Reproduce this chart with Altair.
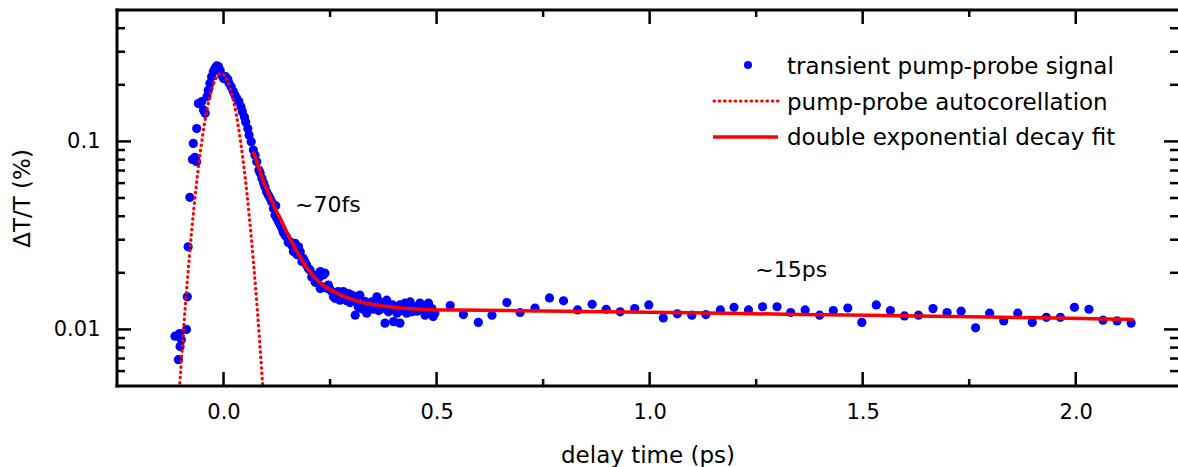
import altair as alt
import pandas as pd

FONT = "DejaVu Sans"
W, H = 1061, 376

# transient pump-probe signal (delay in ps, dT/T in %)
sig_t = [-0.114, -0.103, -0.087, -0.099, -0.102, -0.106,
         -0.085, -0.083, -0.079, -0.073, -0.067, -0.063, -0.071, -0.063, -0.059, -0.051, -0.047, -0.043,
         -0.039, -0.036, -0.032, -0.028, -0.024, -0.020, -0.016, -0.012, -0.008, -0.004, 0.000, 0.005,
         0.010, 0.013, 0.018, 0.023, 0.027, 0.031, 0.036, 0.041, 0.044, 0.049, 0.052, 0.057, 0.060,
         0.065, 0.070, 0.074, 0.078, 0.083,
         0.090, 0.097, 0.105, 0.113, 0.1225, 0.121, 0.129, 0.137, 0.144, 0.156, 0.168, 0.176, 0.180,
         0.187, 0.195, 0.203, 0.211, 0.223, 0.234, 0.231, 0.246, 0.254, 0.262, 0.273,
         0.191, 0.199, 0.227, 0.238, 0.227, 0.258, 0.269, 0.281, 0.293, 0.301, 0.309, 0.309, 0.320,
         0.316, 0.324, 0.336, 0.336, 0.348, 0.360, 0.367, 0.371, 0.379, 0.383, 0.387, 0.399, 0.397,
         0.407, 0.414, 0.414, 0.426, 0.430, 0.438, 0.442, 0.450, 0.461, 0.465, 0.473, 0.481, 0.489,
         0.492, 0.496,
         0.086, 0.094, 0.101, 0.109, 0.117, 0.125, 0.133, 0.140, 0.148, 0.152, 0.160, 0.164, 0.172,
         0.184, 0.207, 0.215, 0.219, 0.242, 0.250, 0.265, 0.277, 0.285, 0.289, 0.297, 0.305, 0.313,
         0.328, 0.332, 0.344, 0.352, 0.356, 0.364, 0.375, 0.391, 0.403, 0.418, 0.422, 0.434, 0.446,
         0.454, 0.469, 0.477, 0.485,
         0.532, 0.563, 0.598, 0.630, 0.665, 0.696, 0.731, 0.765, 0.798, 0.831, 0.865, 0.898, 0.931,
         0.965, 0.998, 1.032, 1.065, 1.099, 1.132, 1.166, 1.198, 1.232, 1.265, 1.299, 1.331, 1.365,
         1.399, 1.431, 1.465, 1.498, 1.532, 1.565, 1.598, 1.631, 1.665, 1.698, 1.731, 1.765, 1.798,
         1.831, 1.864, 1.898, 1.931, 1.964, 1.997, 2.031, 2.064, 2.097, 2.130]
sig_v = [0.0092, 0.0095, 0.0100, 0.0088, 0.0081, 0.0069,
         0.0149, 0.0275, 0.0504, 0.0802, 0.0822, 0.0780, 0.0976, 0.117, 0.159, 0.163, 0.147, 0.141,
         0.173, 0.187, 0.204, 0.221, 0.235, 0.245, 0.252, 0.250, 0.239, 0.225, 0.216, 0.221,
         0.214, 0.204, 0.195, 0.184, 0.176, 0.169, 0.163, 0.153, 0.144, 0.135, 0.127, 0.117, 0.108,
         0.0996, 0.090, 0.0845, 0.078, 0.0704,
         0.0636, 0.0574, 0.0518, 0.0478, 0.0455, 0.0405, 0.0374, 0.0345, 0.0318, 0.0293, 0.0287, 0.0275, 0.0259,
         0.0239, 0.0220, 0.0207, 0.0195, 0.0187, 0.0195, 0.0169, 0.0172, 0.0159, 0.0146, 0.0143,
         0.0229, 0.0211, 0.0203, 0.0199, 0.0165, 0.0149, 0.0159, 0.0159, 0.0155, 0.0152, 0.0143, 0.0119, 0.0152,
         0.0132, 0.0129, 0.0122, 0.0138, 0.0140, 0.0149, 0.0140, 0.0129, 0.0108, 0.0143, 0.0124, 0.0110, 0.0135,
         0.0122, 0.0108, 0.0135, 0.0138, 0.0122, 0.0140, 0.0124, 0.0132, 0.0138, 0.0127, 0.0119, 0.0138, 0.0129,
         0.0117, 0.0122,
         0.068, 0.060, 0.054, 0.050, 0.044, 0.039, 0.036, 0.033, 0.031, 0.029, 0.028, 0.026, 0.025,
         0.023, 0.019, 0.0178, 0.0183, 0.0166, 0.0163, 0.0152, 0.0148, 0.0146, 0.0142, 0.0139, 0.0146, 0.0150,
         0.0131, 0.0141, 0.0131, 0.0128, 0.0134, 0.0126, 0.0131, 0.0131, 0.0128, 0.0126, 0.0130, 0.0127, 0.0129,
         0.0125, 0.0131, 0.0127, 0.0124,
         0.0134, 0.0120, 0.0109, 0.0119, 0.0139, 0.0123, 0.0130, 0.0147, 0.0142, 0.0127, 0.0136, 0.0128, 0.0124,
         0.0129, 0.0135, 0.0115, 0.0121, 0.0119, 0.0120, 0.0127, 0.0131, 0.0127, 0.0132, 0.0132, 0.0123, 0.0127,
         0.0119, 0.0126, 0.0130, 0.0109, 0.0135, 0.0126, 0.0118, 0.0119, 0.0129, 0.0123, 0.0125, 0.0102, 0.0122,
         0.0111, 0.0122, 0.0109, 0.0116, 0.0116, 0.0131, 0.0128, 0.0112, 0.0111, 0.0108]

# pump-probe autocorrelation (dotted)
auto_t = [-0.105, -0.10, -0.09, -0.08, -0.07, -0.06, -0.05, -0.04, -0.03, -0.02, -0.01,
          0.00, 0.01, 0.02, 0.03, 0.04, 0.05, 0.06, 0.07, 0.08, 0.09, 0.10]
auto_v = [0.00426, 0.0063, 0.01295, 0.0246, 0.0430, 0.0695, 0.1036, 0.1424, 0.1806, 0.2113, 0.2281,
          0.2272, 0.2088, 0.1770, 0.1384, 0.0999, 0.0665, 0.0408, 0.0231, 0.0121, 0.00583, 0.0026]

# double exponential decay fit (solid)
fit_t = [0.070, 0.083, 0.097, 0.109, 0.121, 0.133, 0.144, 0.156, 0.168, 0.180, 0.191, 0.203, 0.215,
         0.227, 0.238, 0.250, 0.262, 0.273, 0.285, 0.300, 0.320, 0.340, 0.367, 0.390, 0.414, 0.440,
         0.461, 0.508, 0.555, 0.700, 0.900, 1.100, 1.354, 1.550, 1.750, 1.950, 2.136]
fit_v = [0.0882, 0.0724, 0.0586, 0.0508, 0.0440, 0.0390, 0.0345, 0.0305, 0.0270, 0.0243, 0.0220, 0.0202, 0.0187,
         0.0177, 0.0169, 0.0163, 0.0158, 0.0153, 0.0149, 0.0145, 0.0140, 0.0137, 0.0134, 0.0132, 0.0130, 0.01288,
         0.0128, 0.0127, 0.01268, 0.01258, 0.01243, 0.01227, 0.0120, 0.01185, 0.01168, 0.01150, 0.0113]

x_major = [0.0, 0.5, 1.0, 1.5, 2.0]
x_minor = [0.25, 0.75, 1.25, 1.75]
y_major = [0.01, 0.1]
y_minor = [0.006, 0.007, 0.008, 0.009, 0.02, 0.03, 0.04, 0.05, 0.06, 0.07, 0.08, 0.09, 0.2, 0.3, 0.4]

legend_labels = ["transient pump-probe signal", "pump-probe autocorellation", "double exponential decay fit"]
ann_text = ["~70fs", "~15ps"]
ann_t = [0.168, 1.248]
ann_v = [0.0457, 0.0206]

BLUE = "#0000ff"
RED = "#ff0000"

xs = alt.Scale(domain=[-0.25, 2.24], nice=False, zero=False)
ys = alt.Scale(type="log", domain=[0.005, 0.5], nice=False)
one = pd.DataFrame({"k": [0]})

AX_COMMON = dict(ticks=False, domain=False, grid=False,
                 labelFont=FONT, labelFontSize=21, labelColor="black",
                 titleFont=FONT, titleFontSize=23, titleFontWeight="normal", titleColor="black")
AX_X = alt.Axis(values=x_major, format=".1f", labelPadding=15, title="delay time (ps)",
                titlePadding=22, **AX_COMMON)
AX_Y = alt.Axis(values=y_major, format=".2~f", labelPadding=17, title="ΔT/T (%)",
                titlePadding=19, **AX_COMMON)


def X(field="t"):
    return alt.X(field + ":Q", scale=xs, axis=AX_X)


def Y(field="v"):
    return alt.Y(field + ":Q", scale=ys, axis=AX_Y)


points = alt.Chart(pd.DataFrame({"t": sig_t, "v": sig_v})).mark_circle(
    size=85, color=BLUE, opacity=1).encode(x=X(), y=Y())

auto = alt.Chart(pd.DataFrame({"t": auto_t, "v": auto_v})).mark_line(
    color=RED, strokeWidth=3.2, strokeDash=[0.5, 4.8], strokeCap="round", clip=True,
    interpolate="monotone").encode(x=X(), y=Y())

fit = alt.Chart(pd.DataFrame({"t": fit_t, "v": fit_v})).mark_line(
    color=RED, strokeWidth=3.5, interpolate="monotone").encode(x=X(), y=Y())


def yticks(vals, length, right=False):
    x0, x1 = (W - length, W) if right else (0, length)
    return alt.Chart(pd.DataFrame({"v": vals})).mark_rule(color="black", strokeWidth=2.5).encode(
        y=Y(), x=alt.value(x0), x2=alt.value(x1))


def xticks(vals, length, top=False):
    y0, y1 = (0, length) if top else (H - length, H)
    return alt.Chart(pd.DataFrame({"t": vals})).mark_rule(color="black", strokeWidth=2.5).encode(
        x=X(), y=alt.value(y0), y2=alt.value(y1))


ticks = [yticks(y_major, 14), yticks(y_minor, 8), yticks(y_major, 14, True), yticks(y_minor, 8, True),
         xticks(x_major, 14), xticks(x_minor, 7), xticks(x_major, 14, True), xticks(x_minor, 7, True)]

frame_left = alt.Chart(one).mark_rule(color="black", strokeWidth=3, strokeCap="square").encode(
    x=alt.value(0), y=alt.value(0), y2=alt.value(H))
frame_top = alt.Chart(one).mark_rule(color="black", strokeWidth=3, strokeCap="square").encode(
    y=alt.value(0), x=alt.value(0), x2=alt.value(W))
frame_bottom = alt.Chart(one).mark_rule(color="black", strokeWidth=3, strokeCap="square").encode(
    y=alt.value(H), x=alt.value(0), x2=alt.value(W))

ann = alt.Chart(pd.DataFrame({"t": ann_t, "v": ann_v, "s": ann_text})).mark_text(
    font=FONT, fontSize=22, align="left", baseline="middle", color="black").encode(
    x=X(), y=Y(), text="s:N")

leg_pt = alt.Chart(one).mark_point(filled=True, size=64, color=BLUE, opacity=1).encode(
    x=alt.value(631), y=alt.value(55))
leg_dot = alt.Chart(one).mark_rule(color=RED, strokeWidth=3.2, strokeDash=[0.5, 4.8], strokeCap="round").encode(
    x=alt.value(597), x2=alt.value(661), y=alt.value(91))
leg_line = alt.Chart(one).mark_rule(color=RED, strokeWidth=3.5).encode(
    x=alt.value(596), x2=alt.value(661), y=alt.value(127))
leg_txt = [alt.Chart(one).mark_text(font=FONT, fontSize=23, align="left", baseline="alphabetic",
                                    color="black", text=lab).encode(x=alt.value(670), y=alt.value(yy))
           for lab, yy in zip(legend_labels, [64, 100, 135])]

chart = alt.layer(points, auto, fit, *ticks, frame_left, frame_top, frame_bottom, ann,
                  leg_pt, leg_dot, leg_line, *leg_txt).properties(
    width=W, height=H,
    background="white",
    padding={"left": 117, "top": 10, "right": 0, "bottom": 81},
    autosize=alt.AutoSizeParams(type="none"),
).configure_view(stroke=None)

chart.save("out.html", embed_options={"renderer": "svg", "actions": False})
